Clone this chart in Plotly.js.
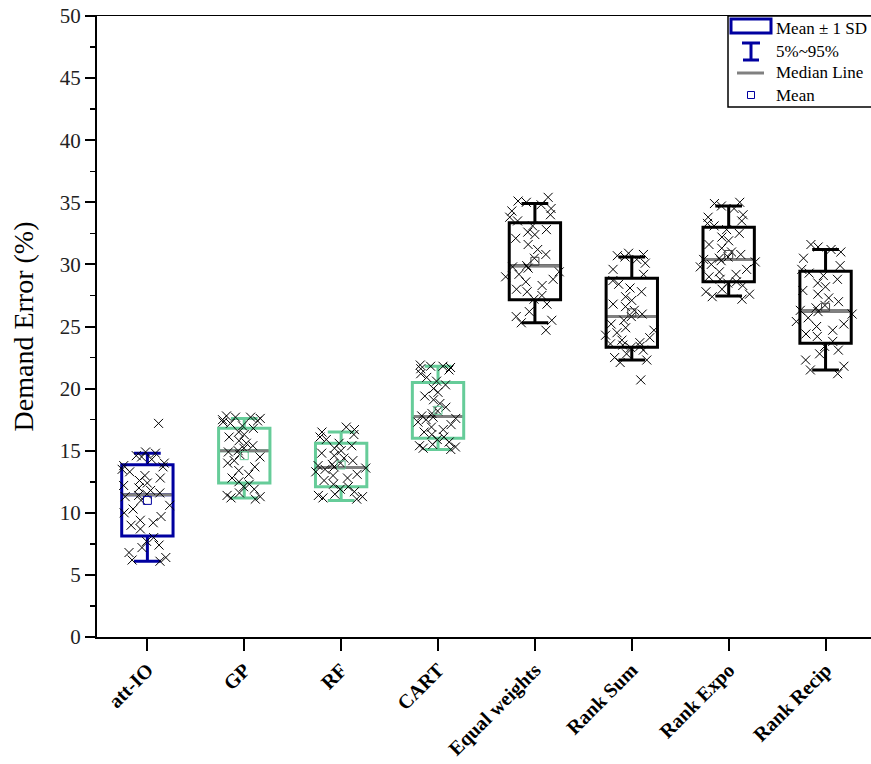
<!DOCTYPE html>
<html>
<head>
<meta charset="utf-8">
<script src="https://cdn.plot.ly/plotly-3.0.1.min.js"></script>
<style>
  html, body { margin: 0; padding: 0; overflow: hidden; background: #fff; }
  #chart { width: 874px; height: 764px; }
</style>
</head>
<body>
<div id="chart"></div>
<script>
// Methods compared on the x axis
const categories = ['att-IO', 'GP', 'RF', 'CART', 'Equal weights', 'Rank Sum', 'Rank Expo', 'Rank Recip'];

// Individual demand errors (%) per method
const errAttIO = [17.2, 14.9, 14.8, 14.6, 14.5, 14.3, 14.0, 13.8, 13.7, 13.5, 13.3, 13.0, 12.8, 12.6, 12.4, 12.2, 12.0, 11.8, 11.6, 11.5, 11.4, 11.3, 11.0, 10.6, 10.3, 10.0, 9.7, 9.4, 9.2, 9.0, 8.7, 8.0, 7.7, 7.4, 7.2, 6.8, 6.4, 6.2, 6.1];
const errGP = [17.8, 17.7, 17.7, 17.6, 17.5, 17.4, 17.3, 17.2, 17.0, 16.8, 16.5, 16.3, 16.1, 15.8, 15.6, 15.4, 15.2, 15.0, 14.9, 14.7, 14.5, 14.2, 14.0, 13.7, 13.4, 13.1, 12.8, 12.5, 12.3, 12.1, 11.9, 11.6, 11.4, 11.3, 11.2, 11.1];
const errRF = [16.9, 16.7, 16.5, 16.3, 16.1, 15.9, 15.6, 15.4, 15.2, 15.0, 14.8, 14.6, 14.4, 14.2, 14.0, 13.9, 13.8, 13.7, 13.6, 13.5, 13.3, 13.1, 13.0, 12.8, 12.6, 12.3, 12.1, 11.9, 11.7, 11.5, 11.4, 11.3, 11.2, 11.1];
const errCART = [21.9, 21.8, 21.8, 21.7, 21.6, 21.5, 21.2, 20.9, 20.6, 20.3, 20.0, 19.7, 19.4, 19.1, 18.8, 18.5, 18.2, 18.0, 17.8, 17.7, 17.6, 17.5, 17.3, 17.1, 16.9, 16.7, 16.5, 16.3, 16.1, 15.9, 15.7, 15.5, 15.4, 15.3, 15.2, 15.1];
const errEqual = [35.4, 35.1, 35.0, 34.8, 34.5, 34.3, 34.0, 33.8, 33.5, 33.1, 32.8, 32.6, 32.4, 32.1, 31.6, 31.2, 30.8, 30.5, 29.9, 29.8, 29.7, 29.4, 29.2, 29.0, 28.8, 28.6, 28.3, 28.0, 27.8, 27.5, 27.2, 26.8, 26.2, 25.8, 25.5, 25.3, 24.7];
const errRankSum = [30.9, 30.8, 30.7, 30.6, 30.4, 30.1, 29.6, 29.2, 28.7, 28.4, 28.1, 27.8, 27.4, 27.1, 26.8, 26.6, 26.3, 26.0, 25.8, 25.5, 25.2, 24.9, 24.7, 24.5, 24.3, 24.1, 23.9, 23.7, 23.6, 23.5, 23.4, 23.3, 23.1, 22.8, 22.5, 22.3, 22.1, 20.7];
const errRankExpo = [35.0, 34.9, 34.7, 34.5, 34.0, 33.8, 33.5, 33.3, 33.1, 32.8, 32.5, 32.2, 31.9, 31.6, 31.3, 31.0, 30.8, 30.6, 30.5, 30.4, 30.3, 30.2, 30.0, 29.8, 29.6, 29.4, 29.2, 29.0, 28.8, 28.6, 28.5, 28.3, 28.0, 27.8, 27.6, 27.4, 27.2];
const errRankRecip = [31.6, 31.4, 31.2, 31.0, 30.5, 29.9, 29.6, 29.3, 29.1, 28.8, 28.5, 28.2, 27.9, 27.6, 27.3, 27.0, 26.7, 26.5, 26.3, 26.2, 26.0, 25.7, 25.4, 25.2, 25.0, 24.7, 24.4, 24.2, 23.8, 23.4, 23.1, 22.8, 22.3, 21.8, 21.5, 21.2];

// Summary statistics per method (%)
const meanVals   = [11.0, 14.6, 13.85, 18.25, 30.25, 26.1, 30.8, 26.55];
const sdVals     = [2.86, 2.2, 1.75, 2.25, 3.1, 2.78, 2.2, 2.9];
const medianVals = [11.45, 15.0, 13.65, 17.75, 29.9, 25.8, 30.4, 26.25];
const p5Vals     = [6.1, 11.2, 11.0, 15.1, 25.3, 22.3, 27.45, 21.5];
const p95Vals    = [14.8, 17.6, 16.5, 21.8, 34.9, 30.6, 34.7, 31.2];

const samples = [errAttIO, errGP, errRF, errCART, errEqual, errRankSum, errRankExpo, errRankRecip];

const NAVY = '#0000A0';
const GREEN = '#66CC99';
const BLACK = '#000000';
const boxColors  = [NAVY, GREEN, GREEN, GREEN, BLACK, BLACK, BLACK, BLACK];
const meanColors = [NAVY, GREEN, GREEN, GREEN, '#444444', '#444444', '#444444', '#444444'];

const FONT = 'Liberation Serif, Times New Roman, serif';
const BOX_W = 0.53;

const traces = [];

// Mean ± 1 SD boxes with 5%–95% whiskers
categories.forEach((cat, i) => {
  traces.push({
    type: 'box',
    x: [cat],
    q1: [meanVals[i] - sdVals[i]],
    median: [medianVals[i]],
    q3: [meanVals[i] + sdVals[i]],
    lowerfence: [p5Vals[i]],
    upperfence: [p95Vals[i]],
    width: BOX_W,
    whiskerwidth: 0.52,
    line: { color: boxColors[i], width: 3 },
    fillcolor: 'rgba(0,0,0,0)',
    boxpoints: false,
    hoverinfo: 'skip',
    showlegend: false
  });
});

// Grey median lines
categories.forEach((cat, i) => {
  traces.push({
    type: 'box',
    x: [cat],
    q1: [medianVals[i]],
    median: [medianVals[i]],
    q3: [medianVals[i]],
    lowerfence: [medianVals[i]],
    upperfence: [medianVals[i]],
    width: BOX_W - 0.03,
    whiskerwidth: 0,
    line: { color: '#808080', width: 3 },
    fillcolor: 'rgba(0,0,0,0)',
    boxpoints: false,
    hoverinfo: 'skip',
    showlegend: false
  });
});

// Individual results, jittered across the box width
categories.forEach((cat, i) => {
  traces.push({
    type: 'box',
    x: samples[i].map(() => cat),
    y: samples[i],
    boxpoints: 'all',
    jitter: 1,
    pointpos: 0,
    width: 0.62,
    line: { width: 0, color: 'rgba(0,0,0,0)' },
    fillcolor: 'rgba(0,0,0,0)',
    marker: { symbol: 'x-thin-open', size: 9, color: '#000', line: { width: 1, color: '#000' } },
    hoverinfo: 'y',
    showlegend: false
  });
});

// Mean markers
traces.push({
  type: 'scatter',
  mode: 'markers',
  x: categories,
  y: meanVals,
  marker: { symbol: 'square-open', size: 8, color: meanColors, line: { width: 1 } },
  hoverinfo: 'y',
  showlegend: false
});

// Plot-area geometry used to place the hand-built legend (pixels -> paper)
const M = { l: 97, r: 0, t: 16, b: 127 };
const W = 874, H = 764;
const PW = W - M.l - M.r, PH = H - M.t - M.b;
const px = v => (v - M.l) / PW;
const py = v => (H - M.b - v) / PH;

const shapes = [
  // legend frame
  { type: 'rect', xref: 'paper', yref: 'paper', x0: px(728), x1: px(900), y0: py(107), y1: py(16),
    line: { color: '#000', width: 1.5 }, fillcolor: '#fff', layer: 'above' },
  // box icon
  { type: 'rect', xref: 'paper', yref: 'paper', x0: px(731), x1: px(771), y0: py(33), y1: py(19),
    line: { color: NAVY, width: 3 }, layer: 'above' },
  // whisker icon
  { type: 'line', xref: 'paper', yref: 'paper', x0: px(742), x1: px(760), y0: py(43), y1: py(43),
    line: { color: NAVY, width: 3 }, layer: 'above' },
  { type: 'line', xref: 'paper', yref: 'paper', x0: px(751), x1: px(751), y0: py(43), y1: py(60),
    line: { color: NAVY, width: 3 }, layer: 'above' },
  { type: 'line', xref: 'paper', yref: 'paper', x0: px(743), x1: px(759), y0: py(60), y1: py(60),
    line: { color: NAVY, width: 3 }, layer: 'above' },
  // median icon
  { type: 'line', xref: 'paper', yref: 'paper', x0: px(737), x1: px(764), y0: py(73), y1: py(73),
    line: { color: '#808080', width: 3 }, layer: 'above' },
  // mean icon
  { type: 'rect', xref: 'paper', yref: 'paper', x0: px(747.5), x1: px(754.5), y0: py(98.5), y1: py(91.5),
    line: { color: NAVY, width: 1 }, layer: 'above' }
];

const legendText = [
  { text: 'Mean ± 1 SD', y: 29 },
  { text: '5%~95%', y: 51 },
  { text: 'Median Line', y: 73 },
  { text: 'Mean', y: 95 }
];
const annotations = legendText.map(t => ({
  xref: 'paper', yref: 'paper', x: px(774), y: py(t.y),
  xanchor: 'left', yanchor: 'middle', showarrow: false,
  text: t.text, font: { family: FONT, size: 17, color: '#000' }
}));

const layout = {
  width: W, height: H,
  margin: M,
  paper_bgcolor: '#fff', plot_bgcolor: '#fff',
  boxmode: 'overlay',
  showlegend: false,
  font: { family: FONT, color: '#000' },
  xaxis: {
    type: 'category',
    categoryorder: 'array', categoryarray: categories,
    range: [-0.52, 7.5],
    showline: true, linecolor: '#000', linewidth: 1.5, mirror: true,
    ticks: 'outside', ticklen: 12, tickwidth: 2, tickcolor: '#000',
    tickangle: -45,
    tickfont: { family: FONT, size: 20, color: '#000', weight: 'bold' },
    showgrid: false, zeroline: false, fixedrange: true
  },
  yaxis: {
    range: [0, 50],
    tickmode: 'linear', tick0: 0, dtick: 5,
    showline: true, linecolor: '#000', linewidth: 2, mirror: true,
    ticks: 'outside', ticklen: 10, tickwidth: 2, tickcolor: '#000',
    minor: { dtick: 2.5, ticks: 'outside', ticklen: 5, tickwidth: 1.5, tickcolor: '#000', showgrid: false },
    tickfont: { family: FONT, size: 21, color: '#222' },
    title: { text: 'Demand Error (%)', font: { family: FONT, size: 28, color: '#000' }, standoff: 18 },
    showgrid: false, zeroline: false, fixedrange: true
  },
  yaxis2: {
    overlaying: 'y', side: 'right', range: [0, 50],
    tickmode: 'array', tickvals: [2.5, 7.5, 12.5, 17.5, 22.5, 27.5, 32.5, 37.5, 42.5, 47.5],
    ticks: 'inside', ticklen: 8, tickwidth: 1.5, tickcolor: '#000',
    showticklabels: false, showline: false, showgrid: false, zeroline: false, fixedrange: true
  },
  shapes: shapes,
  annotations: annotations
};

Plotly.newPlot('chart', traces, layout, { displayModeBar: false, staticPlot: true });
</script>
</body>
</html>
